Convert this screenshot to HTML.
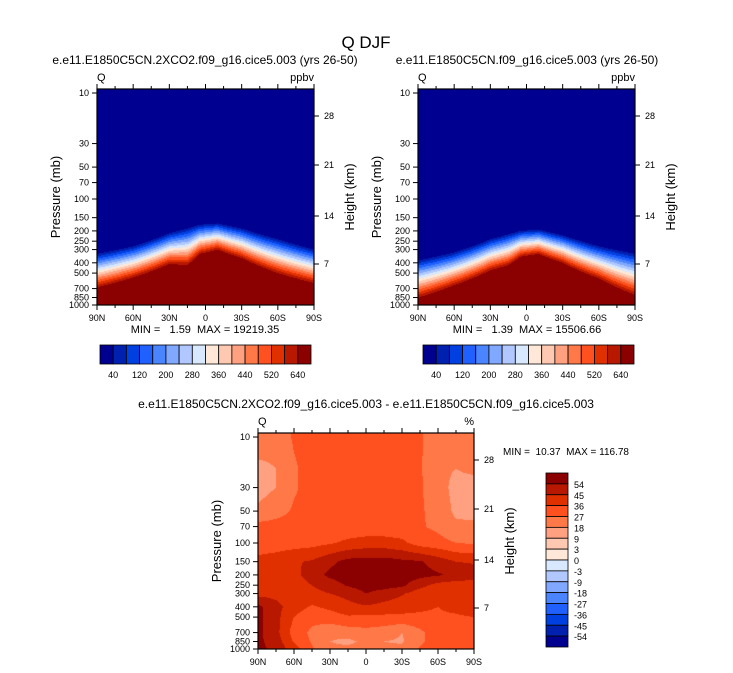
<!DOCTYPE html>
<html><head><meta charset="utf-8"><style>
body{margin:0;width:733px;height:673px;background:#fff;position:relative;overflow:hidden;font-family:"Liberation Sans",sans-serif}
canvas{position:absolute}
svg{position:absolute;left:0;top:0}
text{white-space:pre}
</style></head><body>
<canvas id="c1" width="217" height="216" style="left:97px;top:89px"></canvas>
<canvas id="c2" width="217" height="216" style="left:418px;top:89px"></canvas>
<canvas id="c3" width="216" height="216" style="left:258px;top:433px"></canvas>
<svg id="s" width="733" height="673"></svg>
<script>
// ---- data ----
const lats=[90,60,30,15,5,-10,-30,-60,-90];
const pBlueA=[330,280,210,190,175,170,190,240,300];
const pRedA=[680,550,410,420,330,300,360,500,620];
const pBlueB=[380,320,240,215,200,195,220,280,330];
const pRedB=[850,650,470,420,350,330,400,560,800];
const topLevels=['40','120','200','280','360','440','520','640'];
const diffLats=[90,75,60,45,30,15,0,-15,-30,-45,-60,-75,-90];
const diffP=[10,20,30,50,70,100,150,200,250,300,400,500,700,850,1000];
const diffVals=[
[25,22,28,30,30,30,30,30,30,28,22,22,25],
[15,18,26,30,30,30,30,30,30,28,20,18,20],
[14,18,26,30,30,30,30,30,30,28,22,15,14],
[20,24,28,30,30,30,30,30,30,28,24,16,15],
[30,30,30,30,30,30,30,30,30,28,25,20,20],
[32,32,32,33,35,38,40,40,38,32,30,27,26],
[38,40,44,46,52,57,58,58,56,55,50,45,44],
[40,42,42,50,56,58,60,60,58,57,55,52,50],
[44,40,40,45,50,55,58,58,56,48,42,40,40],
[42,42,42,42,45,48,54,50,46,40,38,38,38],
[56,48,40,35,38,42,44,42,40,38,36,40,44],
[56,48,36,30,32,35,34,34,34,34,34,34,36],
[56,48,32,25,20,22,24,22,18,25,32,34,30],
[56,50,35,26,18,16,20,18,17,25,33,35,30],
[56,52,40,28,20,20,22,20,20,28,34,35,30]];
const diffLevels=[-54,-45,-36,-27,-18,-9,-3,0,3,9,18,27,36,45,54];
const diffMin='10.37', diffMax='116.78';
const pTicks=[10,30,50,70,100,150,200,250,300,400,500,700,850,1000];
const hTicks=[28,21,14,7];
const latTicks=[90,60,30,0,-30,-60,-90];
const cols=['#000090','#0020b0','#0040e0','#2060ff','#4a84ff','#80a8ff','#b0c8ff','#d8e8ff','#ffe8d8','#ffc8b0','#ffa080','#ff7848','#ff5020','#e03000','#b81800','#8b0000'];
// ---- helpers ----
function rgb(h){return [parseInt(h.substr(1,2),16),parseInt(h.substr(3,2),16),parseInt(h.substr(5,2),16)];}
const crgb=cols.map(rgb);
function interp(xs,ys,x){
 if(x>=xs[0])return ys[0]; for(let i=0;i<xs.length-1;i++){if(x<=xs[i]&&x>=xs[i+1]){const t=(xs[i]-x)/(xs[i]-xs[i+1]);return ys[i]+(ys[i+1]-ys[i])*t;}} return ys[ys.length-1];}
function makeAxes(x0,y0,w,h){
 const y10=y0+4, dec=106;
 return {lat:l=>x0+(90-l)/180*w, p:p=>y10+(Math.log10(p)-1)*dec, inv:(py)=>Math.pow(10,(py-y10)/dec+1), x0,y0,w,h};
}
function drawTop(id,ax,pB,pR){
 const c=document.getElementById(id),g=c.getContext('2d'),im=g.createImageData(c.width,c.height);
 for(let j=0;j<c.height;j++){const p=Math.min(1000,ax.inv(ax.y0+j+0.5));
  for(let i=0;i<c.width;i++){const lat=90-(i+0.5)/ax.w*180;
   const b=Math.log10(interp(lats,pB,lat)),r=Math.log10(interp(lats,pR,lat));
   const t=(Math.log10(p)-b)/(r-b);let k=t<0?0:t>=1?15:1+Math.floor(t*14);
   const o=(j*c.width+i)*4,cc=crgb[k];im.data[o]=cc[0];im.data[o+1]=cc[1];im.data[o+2]=cc[2];im.data[o+3]=255;}}
 g.putImageData(im,0,0);
}
function drawDiff(id,ax){
 const c=document.getElementById(id),g=c.getContext('2d'),im=g.createImageData(c.width,c.height);
 const lp=diffP.map(Math.log10);
 for(let j=0;j<c.height;j++){const l=Math.log10(Math.max(10,Math.min(1000,ax.inv(ax.y0+j+0.5))));
  let r=0;while(r<lp.length-2&&l>lp[r+1])r++;const tr=Math.max(0,Math.min(1,(l-lp[r])/(lp[r+1]-lp[r])));
  for(let i=0;i<c.width;i++){const lat=90-(i+0.5)/ax.w*180;let q=Math.min(diffLats.length-2,Math.floor((90-lat)/15));const tq=((90-lat)-q*15)/15;
   const v=(diffVals[r][q]*(1-tq)+diffVals[r][q+1]*tq)*(1-tr)+(diffVals[r+1][q]*(1-tq)+diffVals[r+1][q+1]*tq)*tr;
   let k=0;while(k<diffLevels.length&&v>=diffLevels[k])k++;
   const o=(j*c.width+i)*4,cc=crgb[k];im.data[o]=cc[0];im.data[o+1]=cc[1];im.data[o+2]=cc[2];im.data[o+3]=255;}}
 g.putImageData(im,0,0);
}
const S=document.getElementById('s');const NS='http://www.w3.org/2000/svg';
function el(t,a,txt){const e=document.createElementNS(NS,t);for(const k in a)e.setAttribute(k,a[k]);if(txt!==undefined)e.textContent=txt;S.appendChild(e);return e;}
function txt(x,y,s,size,anchor,name,rot){const e=el('text',{x:x,y:y,'font-size':size,'text-anchor':anchor||'middle','font-family':'Liberation Sans, sans-serif',fill:'#000'},s);
 if(rot)e.setAttribute('transform','rotate(-90 '+x+' '+y+')');
 
 return e;}
function latLabel(l){return l===0?'0':(Math.abs(l)+(l>0?'N':'S'));}
function frame(ax,left,right,prefix){
 const r=el('rect',{x:ax.x0,y:ax.y0,width:ax.w,height:ax.h,fill:'none',stroke:'#000','stroke-width':1.2});
 
 
 const B=ax.y0+ax.h;
 for(let l=90;l>=-90;l-=15){const x=ax.lat(l),len=(l%30===0)?5:3;
  el('line',{x1:x,x2:x,y1:B,y2:B+len,stroke:'#000'});el('line',{x1:x,x2:x,y1:ax.y0,y2:ax.y0-len,stroke:'#000'});}
 latTicks.forEach(l=>txt(ax.lat(l),B+16,latLabel(l),9,'middle',prefix+'-x-tick-label'));
 pTicks.forEach(p=>{const y=ax.p(p);el('line',{x1:ax.x0-5,x2:ax.x0,y1:y,y2:y,stroke:'#000'});
  txt(ax.x0-8,y+3,String(p),9,'end',prefix+'-y-tick-label');});
 hTicks.forEach((hk,i)=>{const y=[ax.y0+27,ax.y0+76,ax.y0+127,ax.y0+175][i];
  el('line',{x1:ax.x0+ax.w,x2:ax.x0+ax.w+5,y1:y,y2:y,stroke:'#000'});
  txt(ax.x0+ax.w+10,y+3,String(hk),9,'start',prefix+'-height-tick-label');});
 txt(ax.x0-37,ax.y0+ax.h/2,'Pressure (mb)',13,'middle',prefix+'-y-axis-title',true);
 txt(ax.x0+ax.w+40,ax.y0+ax.h/2,'Height (km)',13,'middle',prefix+'-height-axis-title',true);
 txt(ax.x0,ax.y0-8,left,11,'start',prefix+'-variable-label');
 txt(ax.x0+ax.w,ax.y0-8,right,11,'end',prefix+'-units-label');
}
function hbar(x,y,w,h,prefix){const bw=w/16;
 for(let k=0;k<16;k++){const r=el('rect',{x:x+k*bw,y:y,width:bw,height:h,fill:cols[k],stroke:'#000','stroke-width':0.8});
  
  }
 topLevels.forEach((s,i)=>txt(x+(1+2*i)*bw,y+h+14,s,9,'middle',prefix+'-colorbar-label'));
}
// ---- build ----
const A1=makeAxes(97,89,217,216),A2=makeAxes(418,89,217,216),A3=makeAxes(258,433,216,216);
drawTop('c1',A1,pBlueA,pRedA);drawTop('c2',A2,pBlueB,pRedB);drawDiff('c3',A3);
txt(366,48,'Q DJF',17,'middle','main-title');
txt(205,64,'e.e11.E1850C5CN.2XCO2.f09_g16.cice5.003 (yrs 26-50)',12,'middle','left-subtitle');
txt(527,64,'e.e11.E1850C5CN.f09_g16.cice5.003 (yrs 26-50)',12,'middle','right-subtitle');
txt(366,408,'e.e11.E1850C5CN.2XCO2.f09_g16.cice5.003 - e.e11.E1850C5CN.f09_g16.cice5.003',12,'middle','difference-title');
frame(A1,'Q','ppbv','left');frame(A2,'Q','ppbv','right');frame(A3,'Q','%','diff');
txt(205,333,'MIN =   1.59  MAX = 19219.35',11,'middle','left-min-max');
txt(527,333,'MIN =   1.39  MAX = 15506.66',11,'middle','right-min-max');
hbar(100,345,211,19,'left');hbar(423,345,211,19,'right');
txt(503,455,'MIN =  '+diffMin+'  MAX = '+diffMax,10,'start','diff-min-max');
(function(){const x=546,y=473,w=22,h=174,bh=h/16;
 for(let k=0;k<16;k++){const r=el('rect',{x:x,y:y+k*bh,width:w,height:bh,fill:cols[15-k],stroke:'#000','stroke-width':0.8});
  
  }
 for(let i=0;i<diffLevels.length;i++){const lv=diffLevels[diffLevels.length-1-i];
  txt(x+w+6,y+(i+1)*bh+4,String(lv),9,'start','diff-colorbar-label');}
})();
</script>
</body></html>
